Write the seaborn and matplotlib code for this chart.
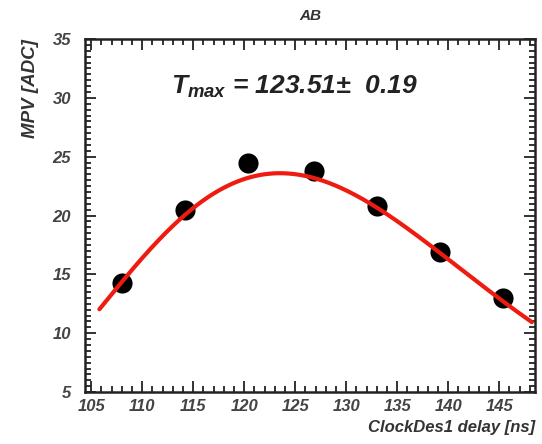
import numpy as np
import pandas as pd
import seaborn as sns
import matplotlib.pyplot as plt
from matplotlib.ticker import MultipleLocator

delay = [108.0, 114.2, 120.4, 126.8, 133.0, 139.2, 145.4]
mpv = [14.3, 20.5, 24.5, 23.8, 20.8, 16.9, 13.0]

# Fit parameters (CR-RC^n pulse shape)
fit_amp = 23.6
fit_tmax = 123.51
fit_tmax_err = 0.19
fit_tau = 52.3
fit_n = 9
fit_range = [105.8, 148.2]

sns.set_theme(style="ticks")
plt.rcParams['font.family'] = ['Liberation Sans', 'DejaVu Sans']
plt.rcParams['mathtext.fontset'] = 'custom'
plt.rcParams['mathtext.rm'] = 'Liberation Sans:bold:italic'
plt.rcParams['mathtext.it'] = 'Liberation Sans:bold:italic'
plt.rcParams['mathtext.bf'] = 'Liberation Sans:bold:italic'

df = pd.DataFrame({'delay': delay, 'mpv': mpv})

t = np.linspace(fit_range[0], fit_range[1], 300)
x = (t - (fit_tmax - fit_tau)) / fit_tau
fit = pd.DataFrame({'delay': t, 'mpv': fit_amp * x**fit_n * np.exp(fit_n * (1 - x))})

fig = plt.figure(figsize=(5.42, 4.44), dpi=100)
ax = fig.add_axes([0.157, 0.117, 0.83, 0.795])

sns.scatterplot(data=df, x='delay', y='mpv', ax=ax, color='black', s=210,
                edgecolor='black', linewidth=0, zorder=2)
sns.lineplot(data=fit, x='delay', y='mpv', ax=ax, color='#ee1c10', lw=3, zorder=3)

ax.set_xlim(104.4, 148.5)
ax.set_ylim(5, 35)
ax.xaxis.set_major_locator(MultipleLocator(5))
ax.xaxis.set_minor_locator(MultipleLocator(1))
ax.yaxis.set_major_locator(MultipleLocator(5))
ax.yaxis.set_minor_locator(MultipleLocator(0.5))
ax.tick_params(which='both', direction='in', top=True, right=True, width=1.3,
               color='#222222')
ax.tick_params(which='major', length=8, labelsize=12)
ax.tick_params(axis='x', which='major', pad=5)
ax.tick_params(axis='y', which='major', pad=10)
ax.tick_params(which='minor', length=4)
for lab in ax.get_xticklabels() + ax.get_yticklabels():
    lab.set_fontweight('bold')
    lab.set_fontstyle('italic')
    lab.set_color('#444444')
for sp in ax.spines.values():
    sp.set_linewidth(1.8)
    sp.set_color('#222222')

ax.set_xlabel('ClockDes1 delay [ns]', fontsize=12, fontweight='bold',
              style='italic', color='#333333', loc='right', labelpad=4)
ax.set_ylabel('MPV [ADC]', fontsize=13.5, fontweight='bold',
              style='italic', color='#333333', loc='top', labelpad=10)
ax.set_title('AB', fontsize=11, fontweight='bold', style='italic',
             color='#333333', pad=14)

ax.text(0.19, 0.865, r'$T_{max}$' + f' = {fit_tmax:.2f}' + r'$\pm$' + f'  {fit_tmax_err:.2f}',
        transform=ax.transAxes, fontsize=19, fontweight='bold', style='italic',
        color='#222222', ha='left', va='center')

fig.savefig('out.png', dpi=100)
